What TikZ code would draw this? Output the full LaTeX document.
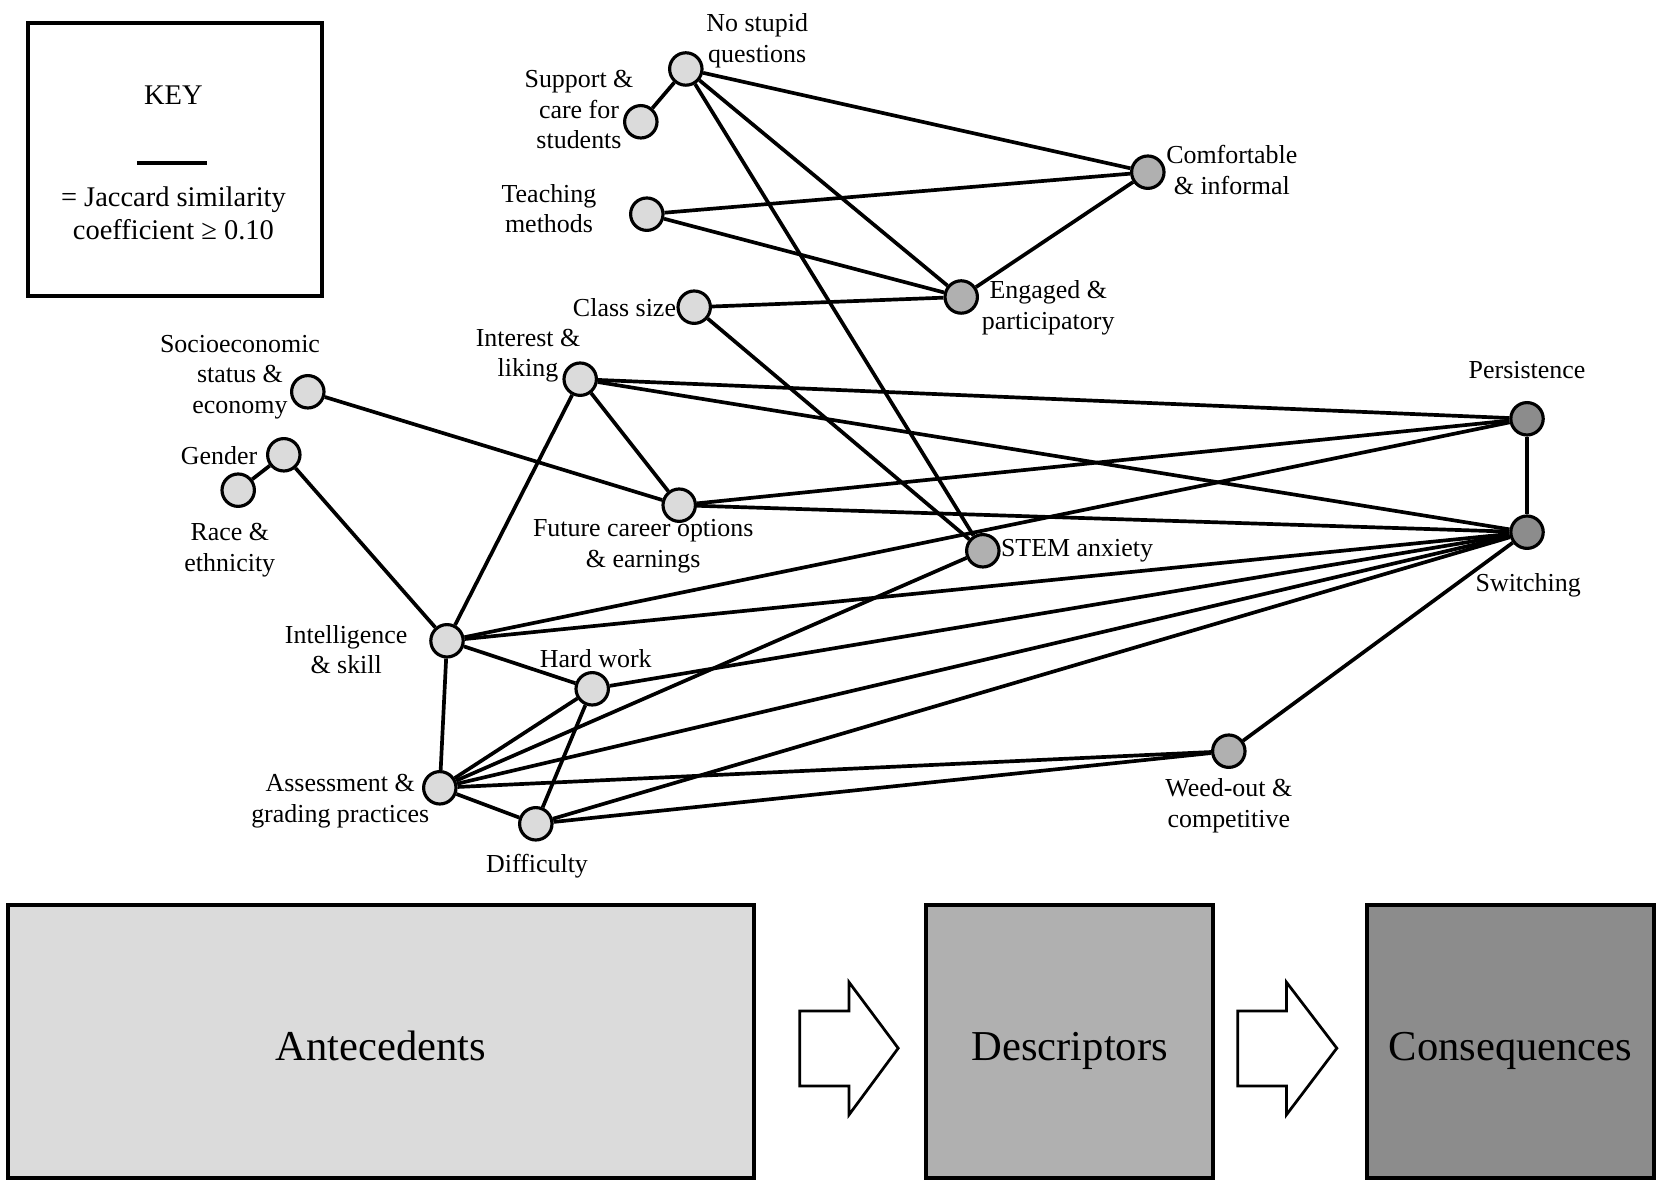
\documentclass[tikz,border=0pt]{standalone}
\usepackage{fontspec}
\setmainfont{Liberation Serif}

\definecolor{antegray}{gray}{0.86}
\definecolor{descgray}{gray}{0.69}
\definecolor{consgray}{gray}{0.55}

\pgfdeclarelayer{bg}
\pgfsetlayers{bg,main}

\tikzset{
	ante/.style={circle, draw, line width=1.5pt, fill=antegray, minimum size=0.54cm, inner sep=0pt},
	desc/.style={ante, fill=descgray},
	cons/.style={ante, fill=consgray},
	lbl/.style={align=center, inner sep=0pt, font=\fontsize{12.3}{14.5}\selectfont},
	link/.style={line width=1.75pt},
	bigbox/.style={draw, line width=1.9pt, minimum height=4.55cm, text height=19pt, text depth=0.6pt, font=\fontsize{20.2}{24}\selectfont}
}

\begin{document}
\begin{tikzpicture}[scale=1]
	
	% Page frame
	\useasboundingbox (0,0) rectangle (27.633,19.75);
	
	% KEY
	\draw[line width=1.9pt] (0.47,14.82) rectangle (5.36,19.37);
	\node[inner sep=0pt, font=\fontsize{13.5}{15.5}\selectfont] (keytitle) at (2.89,18.17) {KEY};
	\coordinate (keyl) at (2.28,17.04);
	\coordinate (keyr) at (3.45,17.04);
	\draw[line width=1.9pt] (keyl) -- (keyr);
	\node[align=center, inner sep=0pt, font=\fontsize{13.5}{15.8}\selectfont] (keytext) at (2.89,16.19) {= Jaccard similarity\\coefficient ≥ 0.10};
	
	% Antecedent nodes
	\node[ante] (nsq) at (11.43,18.60) {};
	\node[ante] (sup) at (10.68,17.72) {};
	\node[ante] (tm) at (10.78,16.18) {};
	\node[ante] (cs) at (11.57,14.63) {};
	\node[ante] (int) at (9.67,13.43) {};
	\node[ante] (ses) at (5.13,13.22) {};
	\node[ante] (gen) at (4.73,12.17) {};
	\node[ante] (race) at (3.97,11.58) {};
	\node[ante] (fut) at (11.32,11.33) {};
	\node[ante] (intel) at (7.45,9.07) {};
	\node[ante] (hw) at (9.87,8.27) {};
	\node[ante] (ass) at (7.33,6.62) {};
	\node[ante] (dif) at (8.93,6.02) {};
	
	% Descriptor nodes
	\node[desc] (com) at (19.13,16.88) {};
	\node[desc] (eng) at (16.02,14.80) {};
	\node[desc] (stem) at (16.38,10.57) {};
	\node[desc] (weed) at (20.48,7.23) {};
	
	% Consequence nodes
	\node[cons] (per) at (25.45,12.77) {};
	\node[cons] (sw) at (25.45,10.88) {};
	
	% Labels
	\node[lbl] (nsqlbl) at (12.62,19.07) {No stupid\\questions};
	\node[lbl] (suplbl) at (9.65,17.92) {Support \&\\care for\\students};
	\node[lbl] (tmlbl) at (9.15,16.27) {Teaching\\methods};
	\node[lbl, anchor=east] (cslbl) at (cs.west) {Class size};
	\node[lbl] (intlbl) at (8.80,13.82) {Interest \&\\liking};
	\node[lbl] (seslbl) at (4.00,13.47) {Socioeconomic\\status \&\\economy};
	\node[lbl] (genlbl) at (3.65,12.15) {Gender};
	\node[lbl] (racelbl) at (3.83,10.58) {Race \&\\ethnicity};
	\node[lbl] (futlbl) at (10.72,10.65) {Future career options\\\& earnings};
	\node[lbl] (intellbl) at (5.77,8.92) {Intelligence\\\& skill};
	\node[lbl] (hwlbl) at (9.93,8.77) {Hard work};
	\node[lbl] (asslbl) at (5.67,6.40) {Assessment \&\\grading practices};
	\node[lbl] (diflbl) at (8.95,5.32) {Difficulty};
	\node[lbl] (comlbl) at (20.53,16.92) {Comfortable\\\& informal};
	\node[lbl] (englbl) at (17.47,14.62) {Engaged \&\\participatory};
	\node[lbl, anchor=west] (stemlbl) at (stem.east) {STEM anxiety};
	\node[lbl] (weedlbl) at (20.48,6.32) {Weed-out \&\\competitive};
	\node[lbl] (perlbl) at (25.45,13.58) {Persistence};
	\node[lbl] (swlbl) at (25.47,10.00) {Switching};
	
	% Links (Jaccard >= 0.10), behind the nodes
	\begin{pgfonlayer}{bg}
		\draw[link] (sup) -- (nsq);
		\draw[link] (nsq) -- (com);
		\draw[link] (nsq) -- (eng);
		\draw[link] (nsq) -- (stem);
		\draw[link] (tm) -- (com);
		\draw[link] (tm) -- (eng);
		\draw[link] (com) -- (eng);
		\draw[link] (cs) -- (eng);
		\draw[link] (cs) -- (stem);
		\draw[link] (int) -- (per);
		\draw[link] (int) -- (sw);
		\draw[link] (int) -- (fut);
		\draw[link] (int) -- (intel);
		\draw[link] (ses) -- (fut);
		\draw[link] (gen) -- (race);
		\draw[link] (gen) -- (intel);
		\draw[link] (fut) -- (per);
		\draw[link] (fut) -- (sw);
		\draw[link] (intel) -- (per);
		\draw[link] (intel) -- (sw);
		\draw[link] (intel) -- (hw);
		\draw[link] (intel) -- (ass);
		\draw[link] (hw) -- (sw);
		\draw[link] (hw) -- (ass);
		\draw[link] (hw) -- (dif);
		\draw[link] (ass) -- (stem);
		\draw[link] (ass) -- (sw);
		\draw[link] (ass) -- (weed);
		\draw[link] (ass) -- (dif);
		\draw[link] (dif) -- (sw);
		\draw[link] (dif) -- (weed);
		\draw[link] (weed) -- (sw);
		\draw[link] (per) -- (sw);
	\end{pgfonlayer}
	
	% Bottom boxes
	\node[bigbox, fill=antegray, minimum width=12.445cm] (antebox) at (6.35,2.395) {Antecedents};
	\node[bigbox, fill=descgray, minimum width=4.78cm] (descbox) at (17.83,2.395) {Descriptors};
	\node[bigbox, fill=consgray, minimum width=4.77cm] (consbox) at (25.175,2.395) {Consequences};
	
	% Block arrows
	\draw[line width=1.3pt, fill=white] (13.33,2.90) -- (14.15,2.90) -- (14.15,3.38) -- (14.97,2.28) -- (14.15,1.17) -- (14.15,1.65) -- (13.33,1.65) -- cycle;
	\draw[line width=1.3pt, fill=white] (20.63,2.90) -- (21.44,2.90) -- (21.44,3.38) -- (22.28,2.28) -- (21.44,1.17) -- (21.44,1.65) -- (20.63,1.65) -- cycle;
	
\end{tikzpicture}
\end{document}
